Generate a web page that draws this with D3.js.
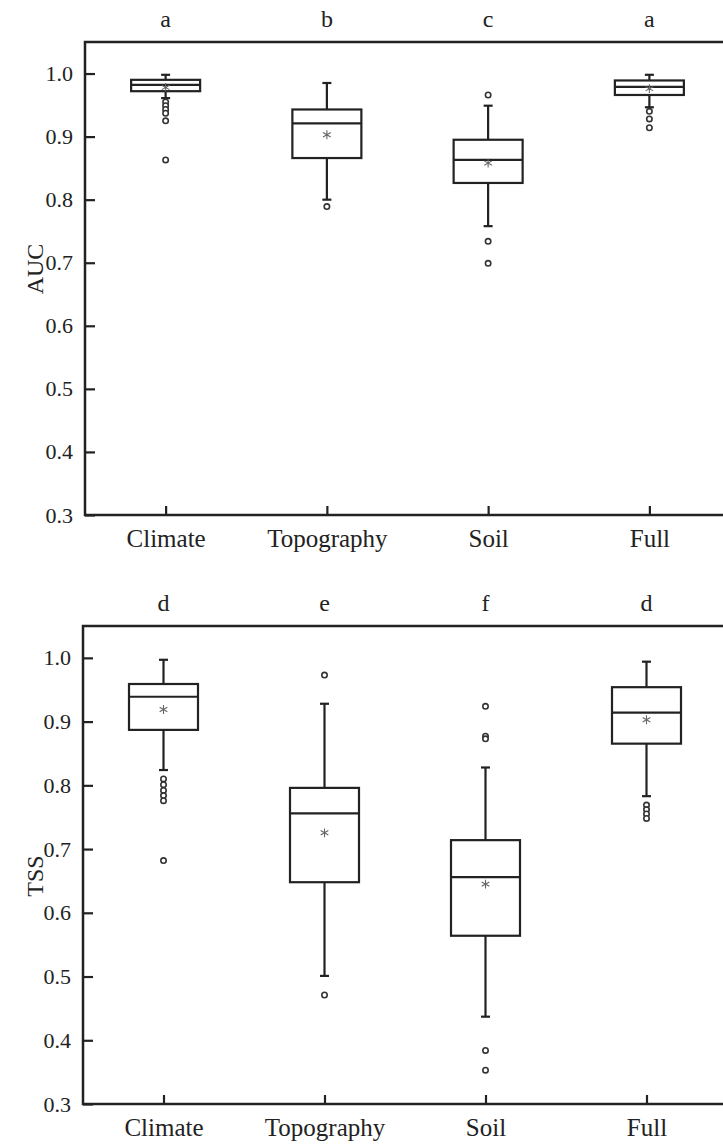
<!DOCTYPE html>
<html>
<head>
<meta charset="utf-8">
<script src="https://cdn.jsdelivr.net/npm/d3@7"></script>
<style>
  body { margin: 0; background: #fff; }
</style>
</head>
<body>
<div id="viz"></div>
<script>
// model groups
var groups = ["Climate", "Topography", "Soil", "Full"];
var yTicks = [0.3, 0.4, 0.5, 0.6, 0.7, 0.8, 0.9, 1.0];

// AUC panel: whisker low, q1, median, q3, whisker high, mean
var aucLetters = ["a", "b", "c", "a"];
var aucLow    = [0.961, 0.800, 0.758, 0.9465];
var aucQ1     = [0.972, 0.866, 0.8265, 0.966];
var aucMedian = [0.982, 0.921, 0.863, 0.979];
var aucQ3     = [0.990, 0.943, 0.895, 0.989];
var aucHigh   = [0.998, 0.985, 0.949, 0.998];
var aucMean   = [0.978, 0.903, 0.858, 0.976];
var aucOutliers = [
  [0.955, 0.949, 0.943, 0.937, 0.925, 0.863],
  [0.789],
  [0.966, 0.734, 0.699],
  [0.940, 0.928, 0.914]
];

// TSS panel
var tssLetters = ["d", "e", "f", "d"];
var tssLow    = [0.824, 0.501, 0.437, 0.783];
var tssQ1     = [0.887, 0.648, 0.564, 0.8654];
var tssMedian = [0.939, 0.756, 0.656, 0.914];
var tssQ3     = [0.959, 0.796, 0.714, 0.954];
var tssHigh   = [0.997, 0.928, 0.828, 0.994];
var tssMean   = [0.919, 0.7255, 0.645, 0.903];
var tssOutliers = [
  [0.810, 0.801, 0.792, 0.784, 0.776, 0.682],
  [0.973, 0.471],
  [0.924, 0.877, 0.873, 0.384, 0.353],
  [0.769, 0.762, 0.755, 0.748]
];

var serif = "'Liberation Serif', 'Times New Roman', serif";

var svg = d3.select("#viz").append("svg")
    .attr("width", 723)
    .attr("height", 1144)
    .attr("font-family", serif);

function drawPanel(opt) {
  var x = d3.scalePoint()
      .domain(groups)
      .range([opt.left, opt.right])
      .padding(0.5);

  var y = d3.scaleLinear()
      .domain([0.3, 1.05])
      .range([opt.bottom, opt.top]);

  var g = svg.append("g");
  var boxW = 69, capW = 9;

  var rows = groups.map(function(d, i) {
    return {name: d, lo: opt.low[i], q1: opt.q1[i], med: opt.median[i], q3: opt.q3[i],
            hi: opt.high[i], mean: opt.mean[i], out: opt.outliers[i], letter: opt.letters[i]};
  });

  var box = g.selectAll(".box")
      .data(rows)
      .enter().append("g")
      .attr("class", "box");

  // whiskers
  box.append("line")
      .attr("x1", function(d) { return x(d.name); })
      .attr("x2", function(d) { return x(d.name); })
      .attr("y1", function(d) { return y(d.hi); })
      .attr("y2", function(d) { return y(d.q3); })
      .attr("stroke", "#222").attr("stroke-width", 2.2);
  box.append("line")
      .attr("x1", function(d) { return x(d.name); })
      .attr("x2", function(d) { return x(d.name); })
      .attr("y1", function(d) { return y(d.q1); })
      .attr("y2", function(d) { return y(d.lo); })
      .attr("stroke", "#222").attr("stroke-width", 2.2);
  box.append("line")
      .attr("x1", function(d) { return x(d.name) - capW / 2; })
      .attr("x2", function(d) { return x(d.name) + capW / 2; })
      .attr("y1", function(d) { return y(d.hi); })
      .attr("y2", function(d) { return y(d.hi); })
      .attr("stroke", "#222").attr("stroke-width", 2.2);
  box.append("line")
      .attr("x1", function(d) { return x(d.name) - capW / 2; })
      .attr("x2", function(d) { return x(d.name) + capW / 2; })
      .attr("y1", function(d) { return y(d.lo); })
      .attr("y2", function(d) { return y(d.lo); })
      .attr("stroke", "#222").attr("stroke-width", 2.2);

  // box + median
  box.append("rect")
      .attr("x", function(d) { return x(d.name) - boxW / 2; })
      .attr("y", function(d) { return y(d.q3); })
      .attr("width", boxW)
      .attr("height", function(d) { return y(d.q1) - y(d.q3); })
      .attr("fill", "none")
      .attr("stroke", "#222").attr("stroke-width", 2.2);
  box.append("line")
      .attr("x1", function(d) { return x(d.name) - boxW / 2; })
      .attr("x2", function(d) { return x(d.name) + boxW / 2; })
      .attr("y1", function(d) { return y(d.med); })
      .attr("y2", function(d) { return y(d.med); })
      .attr("stroke", "#222").attr("stroke-width", 2.2);

  // mean asterisk
  box.append("path")
      .attr("d", d3.symbol(d3.symbolAsterisk, 55))
      .attr("transform", function(d) { return "translate(" + x(d.name) + "," + y(d.mean) + ")"; })
      .attr("fill", "none")
      .attr("stroke", "#666").attr("stroke-width", 1.1);

  // outliers
  box.selectAll("circle")
      .data(function(d) { return d.out.map(function(v) { return {name: d.name, v: v}; }); })
      .enter().append("circle")
      .attr("cx", function(d) { return x(d.name); })
      .attr("cy", function(d) { return y(d.v); })
      .attr("r", 2.7)
      .attr("fill", "#fff")
      .attr("stroke", "#333").attr("stroke-width", 1.6);

  // significance letters
  g.selectAll(".letter")
      .data(rows)
      .enter().append("text")
      .attr("class", "letter")
      .attr("x", function(d) { return x(d.name); })
      .attr("y", opt.top - 15)
      .attr("text-anchor", "middle")
      .attr("fill", "#222")
      .style("font-family", serif)
      .style("font-size", "24px")
      .text(function(d) { return d.letter; });

  // axes
  var yAxis = d3.axisLeft(y)
      .tickValues(yTicks)
      .tickSize(-10)
      .tickPadding(12)
      .tickFormat(d3.format(".1f"));
  var yG = g.append("g")
      .attr("transform", "translate(" + opt.left + ",0)")
      .call(yAxis)
      .attr("font-family", serif);
  yG.select(".domain").remove();
  yG.selectAll("line").attr("stroke", "#222").attr("stroke-width", 2.2);
  yG.selectAll("text").style("font-family", serif).style("font-size", "22px").attr("fill", "#222");

  var xAxis = d3.axisBottom(x)
      .tickSize(-9)
      .tickPadding(14);
  var xG = g.append("g")
      .attr("transform", "translate(0," + opt.bottom + ")")
      .call(xAxis)
      .attr("font-family", serif);
  xG.select(".domain").remove();
  xG.selectAll("line").attr("stroke", "#222").attr("stroke-width", 2.2);
  xG.selectAll("text").style("font-family", serif).style("font-size", "25px").attr("fill", "#222");

  // frame
  g.append("rect")
      .attr("x", opt.left)
      .attr("y", opt.top)
      .attr("width", opt.right - opt.left)
      .attr("height", opt.bottom - opt.top)
      .attr("fill", "none")
      .attr("stroke", "#222").attr("stroke-width", 2.5);

  g.append("text")
      .attr("transform", "translate(" + 43 + "," + opt.labelY + ") rotate(-90)")
      .attr("text-anchor", "middle")
      .attr("fill", "#222")
      .style("font-family", serif)
      .style("font-size", "24px")
      .text(opt.label);
}

drawPanel({top: 42, bottom: 515, left: 85, right: 730, label: "AUC", labelY: 269,
  letters: aucLetters, low: aucLow, q1: aucQ1, median: aucMedian, q3: aucQ3,
  high: aucHigh, mean: aucMean, outliers: aucOutliers});

drawPanel({top: 626, bottom: 1104, left: 83, right: 727, label: "TSS", labelY: 876,
  letters: tssLetters, low: tssLow, q1: tssQ1, median: tssMedian, q3: tssQ3,
  high: tssHigh, mean: tssMean, outliers: tssOutliers});
</script>
</body>
</html>
